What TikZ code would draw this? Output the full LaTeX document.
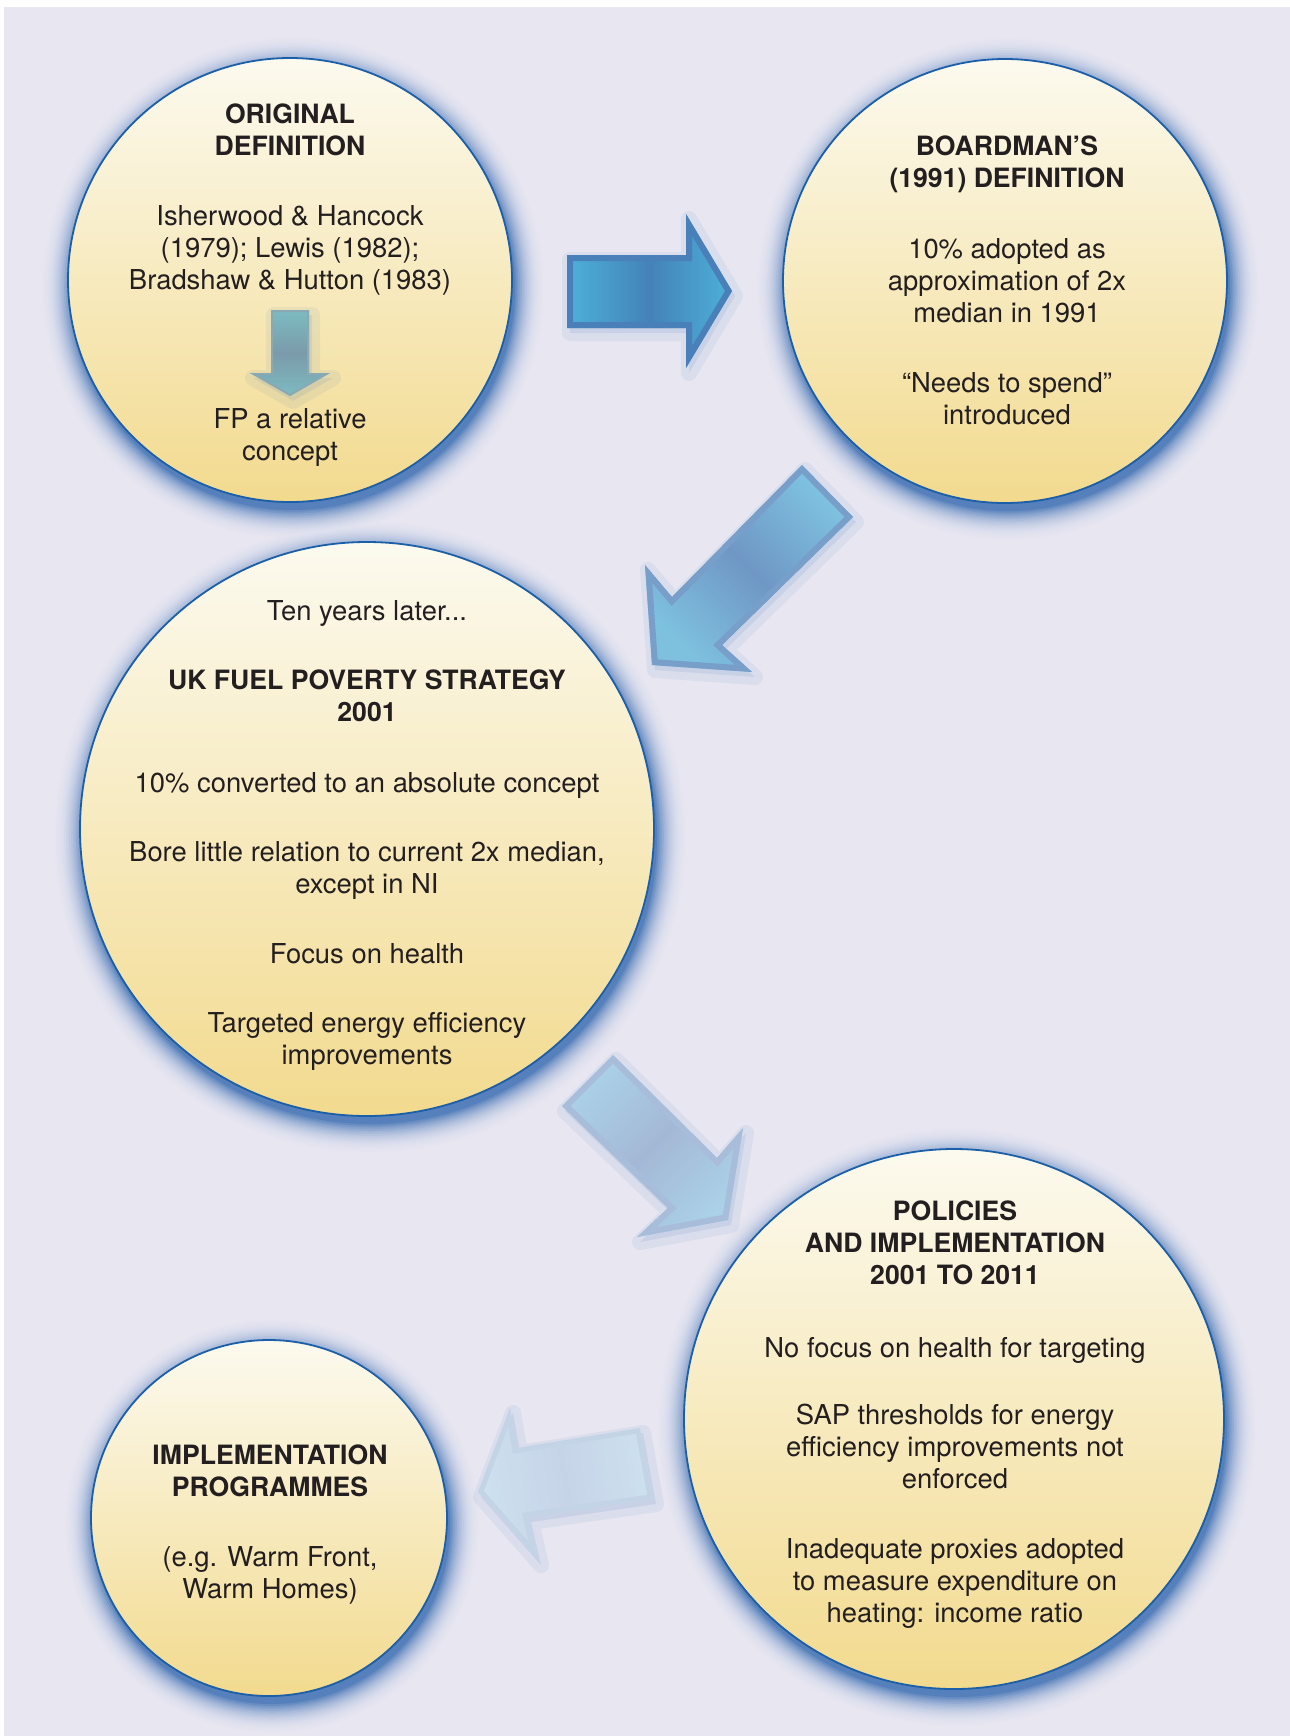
\documentclass[tikz,border=0pt]{standalone}
\usepackage{fontspec}
\setmainfont{TeX Gyre Heros}
\definecolor{fpBack}{HTML}{E7E6F1}
\definecolor{fpEdge}{HTML}{1C5FA9}
\definecolor{fpGlow}{HTML}{3569AF}
\definecolor{fpCream}{HTML}{FCFAEF}
\definecolor{fpGold}{HTML}{F2DA8E}
\definecolor{fpInk}{HTML}{231F20}
\definecolor{fpOneLight}{HTML}{4DB1D8}
\definecolor{fpOneDark}{HTML}{4482B8}
\definecolor{fpOneEdge}{HTML}{4A80BA}
\definecolor{fpTwoLight}{HTML}{7EC1DF}
\definecolor{fpTwoDark}{HTML}{6F97C5}
\definecolor{fpTwoEdge}{HTML}{789ECA}
\definecolor{fpThreeLight}{HTML}{AAD1E7}
\definecolor{fpThreeDark}{HTML}{A4B8D6}
\definecolor{fpThreeEdge}{HTML}{A7BDD9}
\definecolor{fpFourLight}{HTML}{CDE1EF}
\definecolor{fpFourDark}{HTML}{C6D4E8}
\definecolor{fpFourEdge}{HTML}{C4D4E7}
\definecolor{fpSmallLight}{HTML}{7CBCC1}
\definecolor{fpSmallDark}{HTML}{7B9AAA}
\definecolor{fpSmallEdge}{HTML}{89A9B4}
\tikzset{
  fp circle/.style={circle, draw=fpEdge, line width=0.9pt, inner sep=0pt, top color=fpCream, bottom color=fpGold},
  fp text/.style={font=\fontsize{13.7}{16}\selectfont, text=fpInk, align=center, inner sep=0pt,
    execute at begin node=\strut, execute at end node=\strut},
  fp head/.style={fp text, font=\fontsize{13.3}{16}\selectfont\bfseries},
  fp shadow/.style={fpGlow, opacity=0.07, line join=round, xshift=1.5pt, yshift=-2.5pt},
}
% block arrow: shading angle, light, dark, edge style, outline
\newcommand{\fpblockarrow}[5]{%
  \fill[fp shadow, opacity=0.1] #5;
  \draw[fp shadow, line width=8pt] #5;
  \shade[top color=#2, bottom color=#2, middle color=#3, shading angle=#1] #5;
  \begin{scope}
    \clip #5;
    \draw[#4, line join=miter] #5;
  \end{scope}}

\begin{document}
\begin{tikzpicture}[x=0.5pt, y=-0.5pt]
  \useasboundingbox (0,0) rectangle (1290,1736);
  \fill[white] (0,0) rectangle (1290,1736);
  \fill[fpBack] (4,7) rectangle (1290,1736);

  % circle centres
  \coordinate (o1) at (290,280);
  \coordinate (o2) at (1005,281);
  \coordinate (o3) at (367,829);
  \coordinate (o4) at (954,1419);
  \coordinate (o5) at (269,1518);

  % soft blue glow round the circles
  \foreach \k in {20,19,...,0}{
    \pgfmathsetmacro\p{82*(1-\k/20)^2.5}
    \foreach \ctr/\rad in {o1/222,o2/222,o3/287,o4/270,o5/178}{
      \fill[fpGlow!\p!fpBack] ([shift={(3,8)}]\ctr) circle[radius=\rad+1.7*\k];
    }
  }

  % stages
  \node[fp circle, minimum size=222pt] (c1) at (o1) {};
  \node[fp circle, minimum size=222pt] (c2) at (o2) {};
  \node[fp circle, minimum size=287pt] (c3) at (o3) {};
  \node[fp circle, minimum size=270pt] (c4) at (o4) {};
  \node[fp circle, minimum size=178pt] (c5) at (o5) {};

  % arrows
  \fpblockarrow{90}{fpOneLight}{fpOneDark}{draw=fpOneEdge, line width=6pt}
    {(567,255) -- (686,255) -- (686,214) -- (732,291) -- (686,368) -- (686,328) -- (567,328) -- cycle}
  \fpblockarrow{-45}{fpTwoLight}{fpTwoDark}{draw=fpTwoEdge, line width=6pt}
    {(802,465) -- (672,597) -- (645,565) -- (652,665) -- (752,672) -- (722,645) -- (853,517) -- cycle}
  \fpblockarrow{45}{fpThreeLight}{fpThreeDark}{draw=fpThreeEdge, line width=6pt}
    {(613,1055) -- (717,1158) -- (743,1128) -- (728,1220) -- (637,1237) -- (668,1208) -- (562,1106) -- cycle}
  \fpblockarrow{99}{fpFourLight}{fpFourDark}{draw=fpFourEdge, line width=5pt}
    {(640,1428) -- (517,1448) -- (510,1408) -- (478,1492) -- (538,1560) -- (528,1517) -- (653,1499) -- cycle}
  \fpblockarrow{0}{fpSmallLight}{fpSmallDark}{draw=fpSmallEdge, line width=2pt}
    {(271,310) -- (309,310) -- (309,373) -- (330,373) -- (290,396) -- (250,373) -- (271,373) -- cycle}

  % texts
  \node[fp head] (t11) at (290,134) {ORIGINAL\\DEFINITION};
  \node[fp text] (t12) at (290,252) {Isherwood \& Hancock\\(1979); Lewis (1982);\\Bradshaw \& Hutton (1983)};
  \node[fp text] (t13) at (290,439) {FP a relative\\concept};

  \node[fp head] (t21) at (1007,166) {BOARDMAN’S\\(1991) DEFINITION};
  \node[fp text] (t22) at (1007,285) {10\% adopted as\\approximation of 2x\\median in 1991};
  \node[fp text] (t23) at (1007,403) {“Needs to spend”\\introduced};

  \node[fp text] (t31) at (367,614) {Ten years later...};
  \node[fp head] (t32) at (367,700) {UK FUEL POVERTY STRATEGY\\2001};
  \node[fp text] (t33) at (367,786) {10\% converted to an absolute concept};
  \node[fp text] (t34) at (367,872) {Bore little relation to current 2x median,\\except in NI};
  \node[fp text] (t35) at (367,957) {Focus on health};
  \node[fp text] (t36) at (367,1043) {Targeted energy efficiency\\improvements};

  \node[fp head] (t41) at (955,1247) {POLICIES\\AND IMPLEMENTATION\\2001 TO 2011};
  \node[fp text] (t42) at (955,1351) {No focus on health for targeting};
  \node[fp text] (t43) at (955,1451) {SAP thresholds for energy\\efficiency improvements not\\enforced};
  \node[fp text] (t44) at (955,1585) {Inadequate proxies adopted\\to measure expenditure on\\heating: income ratio};

  \node[fp head] (t51) at (270,1475) {IMPLEMENTATION\\PROGRAMMES};
  \node[fp text] (t52) at (270,1577) {(e.g. Warm Front,\\Warm Homes)};
\end{tikzpicture}
\end{document}
